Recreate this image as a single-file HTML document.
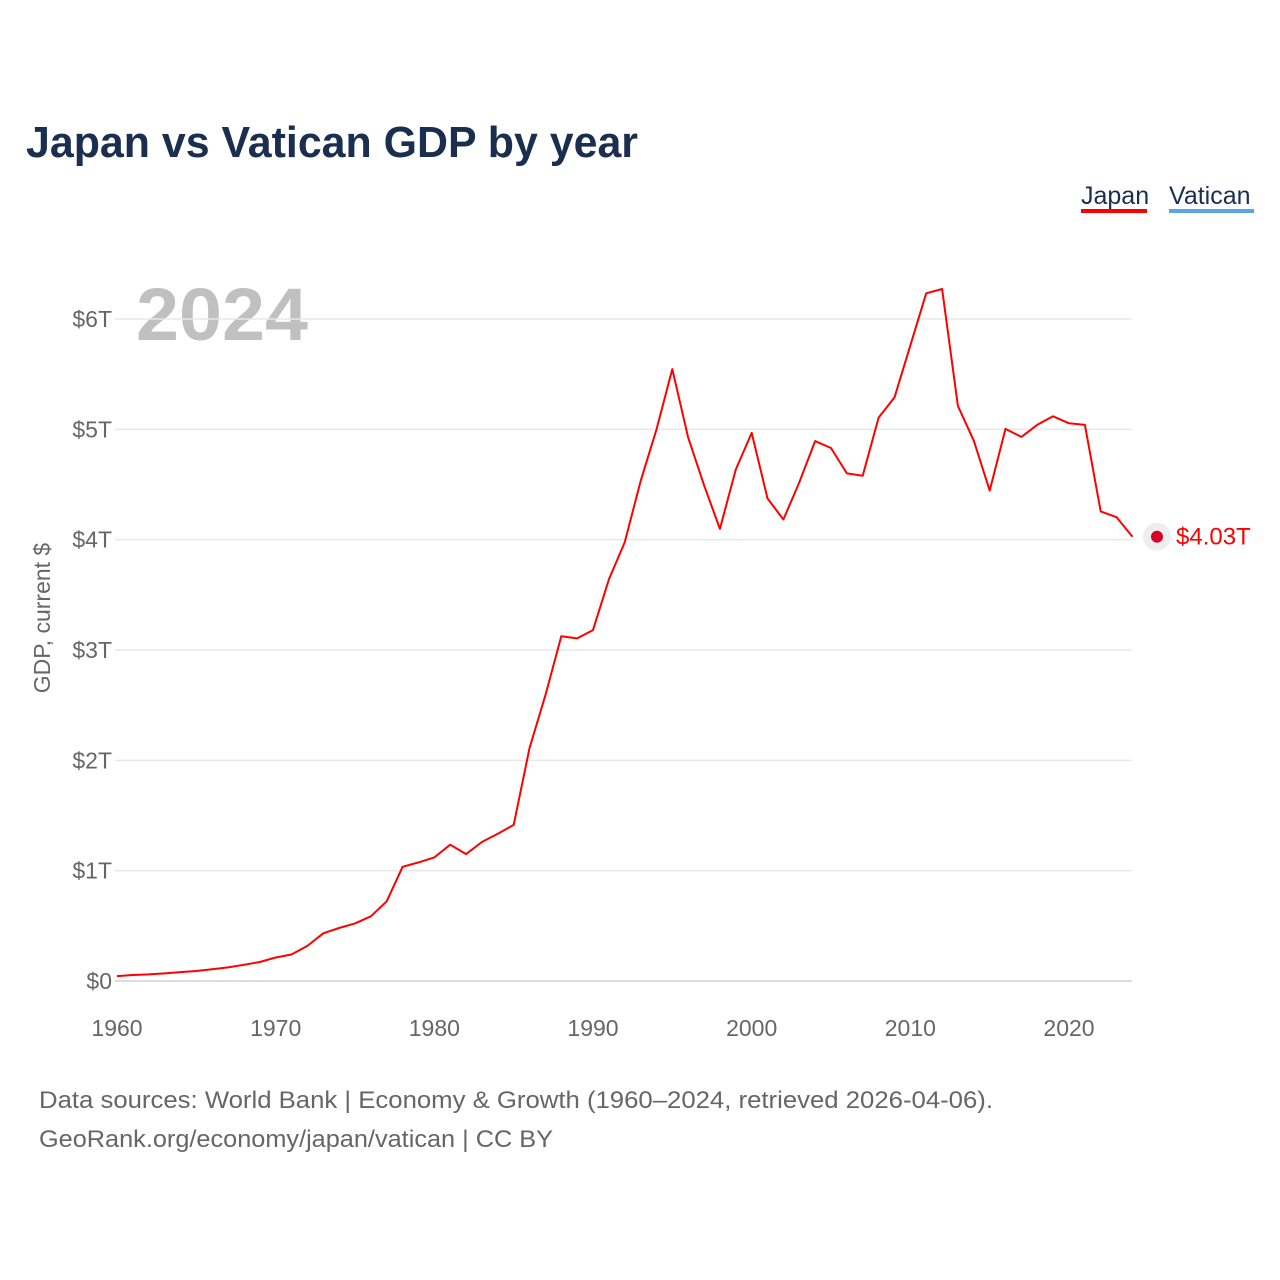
<!DOCTYPE html>
<html><head><meta charset="utf-8"><style>
html,body{margin:0;padding:0;background:#fff;width:1280px;height:1280px;overflow:hidden}
body{font-family:"Liberation Sans",sans-serif}
</style></head><body>
<svg id="chart" width="1280" height="1280" xmlns="http://www.w3.org/2000/svg" font-family="Liberation Sans, sans-serif">
<text x="26" y="157" font-size="44" font-weight="bold" fill="#1a2e4f" textLength="612" lengthAdjust="spacingAndGlyphs">Japan vs Vatican GDP by year</text>
<g>
<text x="1081" y="204" font-size="25" fill="#1a2e4f">Japan</text>
<rect x="1081" y="209" width="66" height="4" fill="#ff0000"/>
<text x="1169" y="204" font-size="25" fill="#1a2e4f">Vatican</text>
<rect x="1169" y="209" width="85" height="4" fill="#5aa5e8"/>
</g>
<text x="136" y="340" font-size="74" font-weight="bold" fill="#c0c0c0" textLength="172" lengthAdjust="spacingAndGlyphs">2024</text>
<text transform="translate(50,618) rotate(-90)" text-anchor="middle" font-size="23" fill="#666">GDP, current $</text>
<g id="grid"></g><g id="xticks"></g><g id="series"></g>
<text x="39" y="1108" font-size="24" fill="#666" textLength="954" lengthAdjust="spacingAndGlyphs">Data sources: World Bank | Economy &amp; Growth (1960–2024, retrieved 2026-04-06).</text>
<text x="39" y="1147" font-size="24" fill="#666" textLength="514" lengthAdjust="spacingAndGlyphs">GeoRank.org/economy/japan/vatican | CC BY</text>
</svg>
<script>
const years=[1960,1961,1962,1963,1964,1965,1966,1967,1968,1969,1970,1971,1972,1973,1974,1975,1976,1977,1978,1979,1980,1981,1982,1983,1984,1985,1986,1987,1988,1989,1990,1991,1992,1993,1994,1995,1996,1997,1998,1999,2000,2001,2002,2003,2004,2005,2006,2007,2008,2009,2010,2011,2012,2013,2014,2015,2016,2017,2018,2019,2020,2021,2022,2023,2024];
const japanGdpT=[0.044,0.054,0.060,0.069,0.081,0.091,0.106,0.123,0.147,0.172,0.213,0.240,0.318,0.432,0.480,0.522,0.586,0.722,1.035,1.075,1.120,1.235,1.150,1.260,1.335,1.415,2.110,2.590,3.125,3.105,3.180,3.640,3.975,4.530,4.999,5.546,4.924,4.493,4.098,4.636,4.968,4.374,4.183,4.519,4.893,4.831,4.601,4.579,5.106,5.289,5.759,6.233,6.272,5.212,4.897,4.445,5.004,4.931,5.041,5.118,5.055,5.040,4.256,4.204,4.027];
const vaticanGdpT=[];
const yTicks=[0,1,2,3,4,5,6];
const yTickLabels=["$0","$1T","$2T","$3T","$4T","$5T","$6T"];
const xTicks=[1960,1970,1980,1990,2000,2010,2020];
const NS="http://www.w3.org/2000/svg";
const X=y=>117+(y-1960)*(952/60);
const Y=v=>981-v*(662/6);
function mk(tag,attrs,parent){const e=document.createElementNS(NS,tag);for(const k in attrs)e.setAttribute(k,attrs[k]);parent.appendChild(e);return e;}
const grid=document.getElementById('grid');
yTicks.forEach((t,i)=>{
 const l=mk('line',{x1:115,x2:1132,y1:Y(t),y2:Y(t),stroke:t===0?'#ddd':'#e8e8e8','stroke-width':t===0?2:1.5},grid);
 
 
 const tx=mk('text',{x:112,y:Y(t)+8,'text-anchor':'end','font-size':23,fill:'#666'},grid);
 tx.textContent=yTickLabels[i];
 
 
});
const xt=document.getElementById('xticks');
xTicks.forEach(t=>{
 const tx=mk('text',{x:X(t),y:1036,'text-anchor':'middle','font-size':23,fill:'#666'},xt);
 tx.textContent=t;
 
 
});
const s=document.getElementById('series');
const pts=japanGdpT.map((v,i)=>X(years[i]).toFixed(1)+','+Y(v).toFixed(1)).join(' ');
const pl=mk('polyline',{points:pts,fill:'none',stroke:'#ff0000','stroke-width':2,'stroke-linejoin':'round'},s);


const last=japanGdpT[japanGdpT.length-1];
const halo=mk('circle',{cx:1157,cy:Y(last),r:14,fill:'#eee'},s);


const dot=mk('circle',{cx:1157,cy:Y(last),r:6,fill:'#d6002a'},s);


const lab=mk('text',{x:1176,y:Y(last)+8,'font-size':24,fill:'#ff0000'},s);
lab.textContent='$'+last.toFixed(2)+'T';


</script>
</body></html>
